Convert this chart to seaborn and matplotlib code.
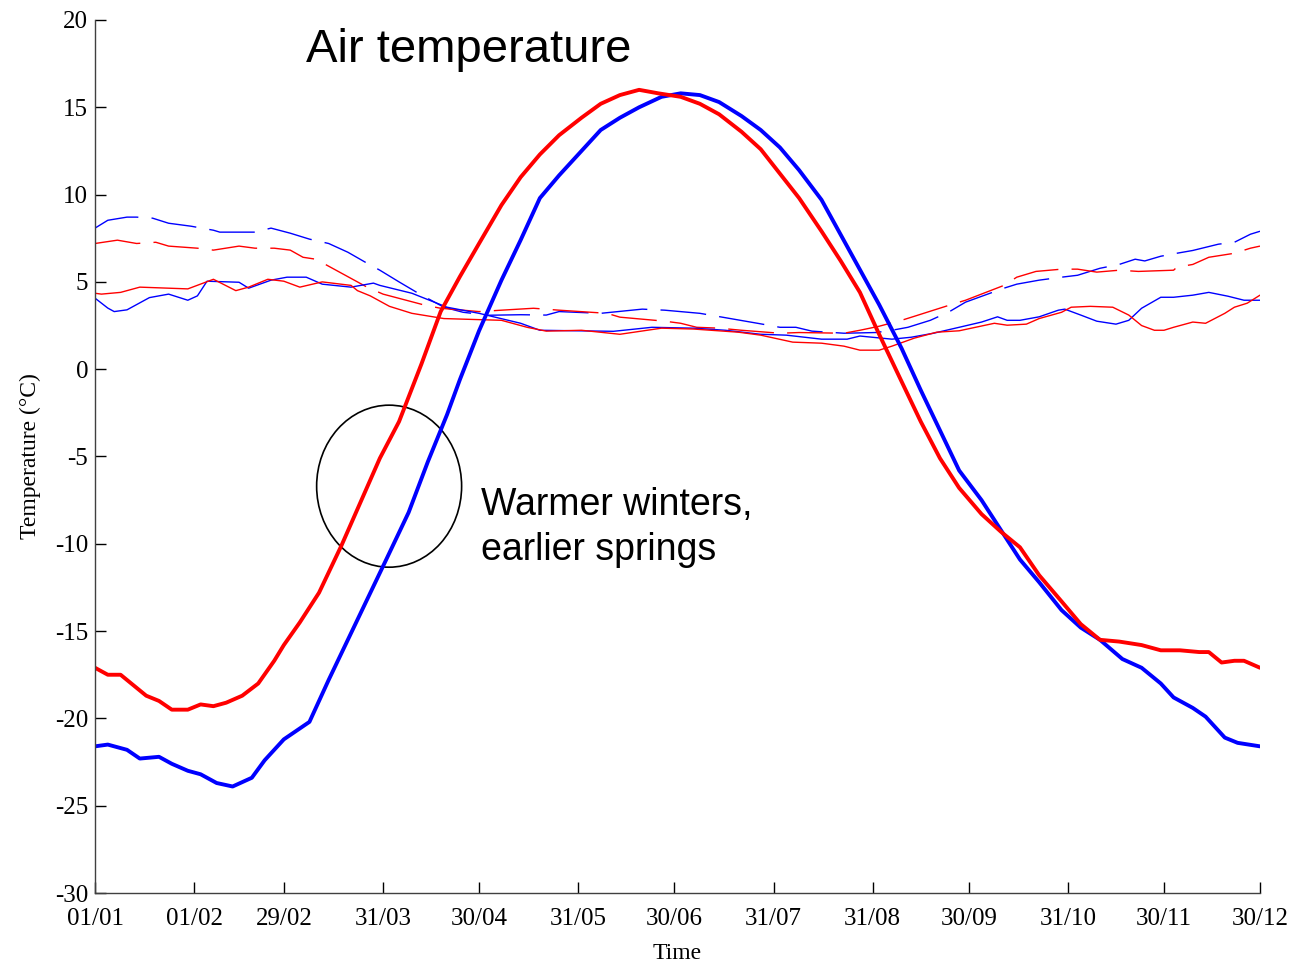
import matplotlib
matplotlib.use("Agg")
import matplotlib.pyplot as plt
from matplotlib.patches import Ellipse
import seaborn as sns

# day of year (leap year) and temperature (°C)
red_mean_days = [1, 5, 9, 13, 17, 21, 25, 30, 34, 38, 42, 47, 52, 57, 60, 65, 71, 78, 84, 90,
                 96, 103, 109, 115, 121, 128, 134, 140, 146, 153, 159, 165, 171, 177, 184, 190,
                 196, 203, 209, 215, 221, 228, 234, 240, 246, 253, 259, 265, 271, 278, 284, 290,
                 296, 303, 309, 315, 321, 328, 334, 340, 346, 349, 353, 357, 360, 365]
red_mean = [-17.1, -17.5, -17.5, -18.1, -18.7, -19.0, -19.5, -19.5, -19.2, -19.3, -19.1, -18.7,
            -18.0, -16.7, -15.8, -14.5, -12.8, -10.1, -7.6, -5.1, -3.0, 0.3, 3.3, 5.3, 7.2, 9.4,
            11.0, 12.3, 13.4, 14.4, 15.2, 15.7, 16.0, 15.8, 15.6, 15.2, 14.6, 13.6, 12.6, 11.2,
            9.8, 7.9, 6.2, 4.4, 2.0, -0.7, -3.0, -5.1, -6.8, -8.3, -9.3, -10.2, -11.8, -13.3,
            -14.6, -15.5, -15.6, -15.8, -16.1, -16.1, -16.2, -16.2, -16.8, -16.7, -16.7, -17.1]

blue_mean_days = [1, 5, 11, 15, 21, 25, 30, 34, 39, 44, 50, 54, 60, 68, 74, 80, 86, 92, 99, 105,
                  111, 115, 121, 128, 134, 140, 146, 153, 159, 165, 171, 178, 184, 190, 196, 203,
                  209, 215, 221, 228, 234, 240, 246, 253, 259, 265, 271, 278, 284, 290, 296, 303,
                  309, 315, 322, 328, 334, 338, 344, 348, 354, 358, 365]
blue_mean = [-21.6, -21.5, -21.8, -22.3, -22.2, -22.6, -23.0, -23.2, -23.7, -23.9, -23.4, -22.4,
             -21.2, -20.2, -17.8, -15.5, -13.2, -10.9, -8.2, -5.3, -2.6, -0.6, 2.2, 5.1, 7.4, 9.8,
             11.1, 12.5, 13.7, 14.4, 15.0, 15.6, 15.8, 15.7, 15.3, 14.5, 13.7, 12.7, 11.4, 9.7,
             7.7, 5.7, 3.7, 1.2, -1.2, -3.5, -5.8, -7.5, -9.2, -10.9, -12.2, -13.8, -14.8, -15.5,
             -16.6, -17.1, -18.0, -18.8, -19.4, -19.9, -21.1, -21.4, -21.6]

red_thin_days = [1, 3, 9, 15, 30, 38, 45, 49, 55, 60, 65, 72, 81, 83, 87, 93, 100, 110, 128, 136,
                 142, 153, 165, 178, 188, 202, 209, 219, 228, 235, 240, 246, 250, 257, 264, 271,
                 282, 286, 292, 296, 303, 306, 312, 319, 324, 328, 332, 335, 338, 344, 348, 354,
                 357, 361, 365]
red_thin = [4.35, 4.3, 4.4, 4.7, 4.6, 5.15, 4.5, 4.7, 5.15, 5.04, 4.7, 5.0, 4.8, 4.5, 4.2, 3.6,
            3.2, 2.9, 2.8, 2.4, 2.18, 2.23, 2.0, 2.35, 2.3, 2.12, 1.95, 1.55, 1.49, 1.32, 1.09,
            1.09, 1.32, 1.78, 2.12, 2.2, 2.63, 2.52, 2.58, 2.9, 3.26, 3.55, 3.6, 3.55, 3.1, 2.5,
            2.23, 2.23, 2.4, 2.7, 2.63, 3.2, 3.55, 3.78, 4.24]

blue_thin_days = [1, 5, 7, 11, 18, 24, 30, 33, 36, 46, 49, 56, 61, 67, 72, 81, 88, 90, 100, 111,
                  121, 134, 140, 163, 175, 188, 198, 209, 217, 228, 236, 240, 250, 256, 263, 271,
                  278, 283, 286, 290, 296, 302, 304, 309, 314, 320, 324, 328, 334, 338, 344, 349,
                  355, 360, 365]
blue_thin = [4.07, 3.5, 3.3, 3.4, 4.1, 4.3, 3.95, 4.2, 5.04, 4.98, 4.64, 5.1, 5.27, 5.27, 4.87,
             4.7, 4.93, 4.8, 4.35, 3.55, 3.2, 2.63, 2.23, 2.17, 2.4, 2.35, 2.23, 2.0, 1.95, 1.72,
             1.72, 1.9, 1.72, 1.83, 2.06, 2.4, 2.7, 3.0, 2.8, 2.8, 3.0, 3.38, 3.44, 3.1, 2.75,
             2.58, 2.8, 3.49, 4.12, 4.12, 4.24, 4.4, 4.18, 3.95, 3.95]

blue_dash_days = [1, 5, 11, 14, 19, 24, 31, 38, 40, 51, 56, 62, 68, 74, 80, 86, 90, 96, 102, 110,
                  116, 124, 134, 142, 146, 159, 172, 179, 190, 197, 208, 215, 220, 225, 235, 245,
                  250, 255, 262, 268, 273, 285, 289, 296, 303, 308, 315, 321, 326, 329, 334, 339,
                  344, 352, 357, 362, 365]
blue_dash = [8.08, 8.53, 8.71, 8.71, 8.65, 8.36, 8.19, 7.96, 7.85, 7.85, 8.08, 7.79, 7.45, 7.2,
             6.7, 6.07, 5.67, 5.0, 4.35, 3.55, 3.26, 3.09, 3.12, 3.1, 3.3, 3.2, 3.44, 3.38, 3.2,
             2.98, 2.63, 2.4, 2.4, 2.18, 2.06, 2.1, 2.23, 2.4, 2.8, 3.3, 3.84, 4.64, 4.87, 5.1,
             5.27, 5.38, 5.78, 6.0, 6.3, 6.2, 6.47, 6.64, 6.8, 7.16, 7.27, 7.73, 7.9]

red_dash_days = [1, 8, 14, 20, 24, 33, 38, 46, 51, 57, 62, 66, 70, 74, 82, 86, 91, 104, 109, 121,
                 128, 138, 146, 161, 165, 179, 184, 189, 196, 203, 215, 221, 235, 240, 246, 253,
                 257, 263, 268, 273, 285, 289, 295, 303, 308, 314, 321, 327, 338, 339, 344, 349,
                 357, 362, 365]
red_dash = [7.2, 7.39, 7.2, 7.27, 7.05, 6.93, 6.82, 7.05, 6.93, 6.93, 6.82, 6.41, 6.3, 5.9, 5.1,
            4.7, 4.3, 3.67, 3.49, 3.3, 3.38, 3.49, 3.38, 3.2, 2.98, 2.75, 2.63, 2.4, 2.35, 2.23,
            2.06, 2.1, 2.06, 2.23, 2.46, 2.8, 3.03, 3.38, 3.67, 3.95, 4.8, 5.27, 5.6, 5.73, 5.73,
            5.56, 5.67, 5.6, 5.67, 5.84, 6.0, 6.41, 6.64, 6.93, 7.05]

tick_days = [1, 32, 60, 91, 121, 152, 182, 213, 244, 274, 305, 335, 365]
tick_labels = ["01/01", "01/02", "29/02", "31/03", "30/04", "31/05", "30/06",
               "31/07", "31/08", "30/09", "31/10", "30/11", "30/12"]

sns.set_style("ticks")
plt.rcParams["font.family"] = ["Liberation Serif", "DejaVu Serif"]
plt.rcParams["axes.unicode_minus"] = False
plt.rcParams["text.color"] = "black"
plt.rcParams["axes.labelcolor"] = "black"

fig = plt.figure(figsize=(12.96, 9.63), dpi=100)
ax = fig.add_axes([95 / 1296, 1 - 893 / 963, (1260 - 95) / 1296, (893 - 20) / 963])

dash = (0, (33, 9.5))
sns.lineplot(x=blue_dash_days, y=blue_dash, ax=ax, color="#0000ff", linewidth=1.0, linestyle=dash)
sns.lineplot(x=red_dash_days, y=red_dash, ax=ax, color="#ff0000", linewidth=1.0, linestyle=dash)
sns.lineplot(x=blue_thin_days, y=blue_thin, ax=ax, color="#0000ff", linewidth=1.0)
sns.lineplot(x=red_thin_days, y=red_thin, ax=ax, color="#ff0000", linewidth=1.0)
sns.lineplot(x=blue_mean_days, y=blue_mean, ax=ax, color="#0000ff", linewidth=2.8)
sns.lineplot(x=red_mean_days, y=red_mean, ax=ax, color="#ff0000", linewidth=2.8)

ax.add_patch(Ellipse((92.9, -6.7), 45.3, 9.28, fill=False, edgecolor="black", linewidth=1.2))

ax.text(117.9, 17.58, "Air temperature", family="Liberation Sans", fontsize=34,
        color="black", ha="center", va="baseline")
# va="baseline" on two lines lines up the last one
ax.text(121.6, -10.9, "Warmer winters,\nearlier springs", family="Liberation Sans",
        fontsize=27, color="black", ha="left", va="baseline", linespacing=1.32)

ax.set_xlim(1, 365)
ax.set_ylim(-30, 20)
ax.set_xticks(tick_days)
ax.set_xticklabels(tick_labels)
ax.set_yticks(range(-30, 21, 5))
ax.tick_params(direction="in", length=8, width=1, labelsize=18, colors="black")
ax.tick_params(axis="x", pad=11)
ax.tick_params(axis="y", pad=5)
ax.set_xlabel("Time", fontsize=17, labelpad=9)
ax.set_ylabel("Temperature (°C)", fontsize=17, labelpad=10)

for side in ["top", "right"]:
    ax.spines[side].set_visible(False)
for side in ["left", "bottom"]:
    ax.spines[side].set_color("#404040")
    ax.spines[side].set_linewidth(1.0)

fig.savefig("out.png", dpi=100)
